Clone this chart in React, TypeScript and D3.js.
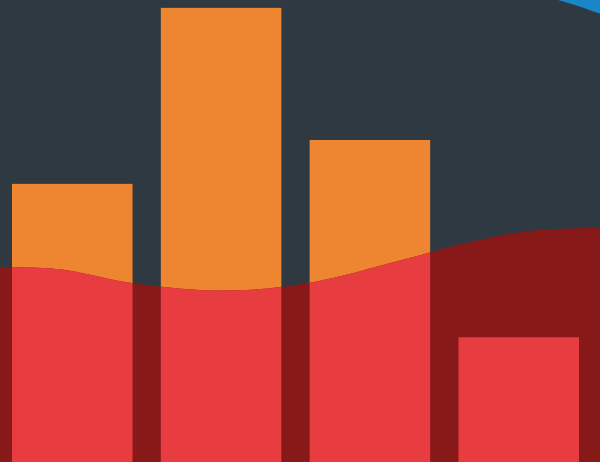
import React from "react";
import * as d3 from "d3";

const categories = ["A", "B", "C", "D"];
const barValues = [60.2, 98.3, 69.7, 27.0];

// wave: x position on a 0..600 domain, value on a 0..100 domain
const waveX = [0, 60, 130, 225, 310, 400, 470, 530, 600];
const waveY = [42.2, 41.7, 38.8, 37.1, 38.8, 43.6, 47.6, 50.0, 50.7];

// blue arc at top-right: x on 0..600, value on 0..100 (from top)
const blueX = [558, 575, 590, 600];
const blueY = [100, 98.9, 97.8, 97.1];

const W = 600;
const H = 462;

export default function App() {
  const x = d3.scaleBand<string>().domain(categories).range([12, 579]).paddingInner(0.19).paddingOuter(0);
  const y = d3.scaleLinear().domain([0, 100]).range([H, 0]);
  const xw = d3.scaleLinear().domain([0, 600]).range([0, W]);

  const waveData = waveX.map((v, i) => [v, waveY[i]] as [number, number]);
  const area = d3
    .area<[number, number]>()
    .x((d) => xw(d[0]))
    .y0(H)
    .y1((d) => y(d[1]))
    .curve(d3.curveCatmullRom.alpha(0.5));
  const wavePath = area(waveData) || "";

  const blueData = blueX.map((v, i) => [v, blueY[i]] as [number, number]);
  const blueArea = d3
    .area<[number, number]>()
    .x((d) => xw(d[0]))
    .y0(0)
    .y1((d) => y(d[1]))
    .curve(d3.curveMonotoneX);
  const bluePath = blueArea(blueData) || "";

  return (
    <svg width={W} height={H} style={{ position: "fixed", top: 0, left: 0, display: "block" }}>
      <defs>
        <clipPath id="waveClip">
          <path d={wavePath} />
        </clipPath>
      </defs>
      <rect x={0} y={0} width={W} height={H} fill="#2f3941" />
      <path d={bluePath} fill="#1a86c8" />
      {categories.map((c, i) => (
        <rect key={"o" + c} x={x(c)} y={y(barValues[i])} width={x.bandwidth()} height={H - y(barValues[i])} fill="#ee8531" />
      ))}
      <path d={wavePath} fill="#871919" />
      <g clipPath="url(#waveClip)">
        {categories.map((c, i) => (
          <rect key={"r" + c} x={x(c)} y={y(barValues[i])} width={x.bandwidth()} height={H - y(barValues[i])} fill="#e83d40" />
        ))}
      </g>
    </svg>
  );
}
